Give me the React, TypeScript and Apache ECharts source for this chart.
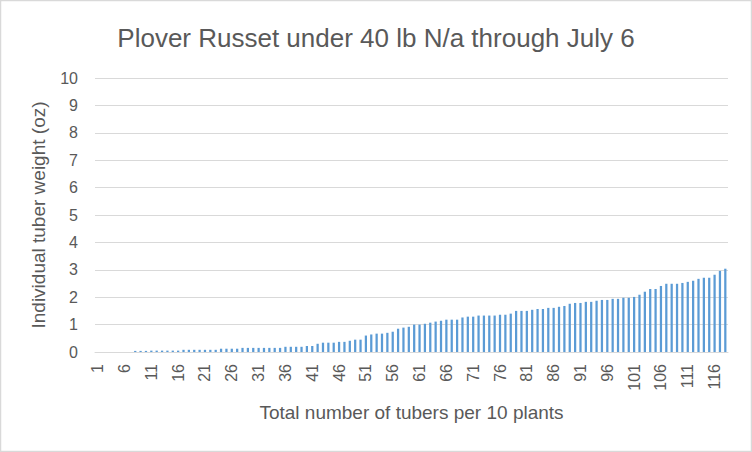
import React, { useEffect, useRef } from "react";
import * as echarts from "echarts";

const titleText = "Plover Russet under 40 lb N/a through July 6";
const xAxisName = "Total number of tubers per 10 plants";
const yAxisName = "Individual tuber weight (oz)";

const tuberCount = 118;
const categories: string[] = Array.from({ length: tuberCount }, (_, i) => String(i + 1));

const tuberWeights: number[] = [
  0, 0, 0, 0, 0, 0, 0,
  0.04, 0.04, 0.04, 0.05, 0.05, 0.05, 0.05, 0.05, 0.05,
  0.08, 0.08, 0.08, 0.08, 0.08, 0.08, 0.08,
  0.12, 0.12, 0.12, 0.12,
  0.15, 0.15, 0.15, 0.15, 0.15, 0.15, 0.15, 0.15,
  0.19, 0.19, 0.19, 0.19,
  0.22, 0.22,
  0.30,
  0.34, 0.34, 0.34,
  0.37, 0.37,
  0.41,
  0.45, 0.45,
  0.60, 0.64, 0.67, 0.67, 0.70, 0.74, 0.85, 0.89, 0.92, 1.00,
  1.00, 1.03, 1.07, 1.11, 1.14, 1.18, 1.18, 1.18, 1.26, 1.29,
  1.29, 1.33, 1.33, 1.33, 1.33, 1.36, 1.36, 1.40, 1.50, 1.50,
  1.50, 1.54, 1.57, 1.57, 1.61, 1.61, 1.65, 1.68, 1.76, 1.79,
  1.79, 1.83, 1.83, 1.87, 1.90, 1.90, 1.94, 1.94, 1.98, 1.98,
  2.01, 2.09, 2.20, 2.30, 2.30, 2.41, 2.49, 2.49, 2.49, 2.52,
  2.56, 2.60, 2.67, 2.71, 2.71, 2.82, 2.96, 3.04,
];

const FONT = "Liberation Sans";
const TEXT = "#595959";
const GRID = "#d9d9d9";

export default function App() {
  const ref = useRef<HTMLDivElement>(null);
  useEffect(() => {
    document.body.style.margin = "0";
    if (!ref.current) return;
    const chart = echarts.init(ref.current, undefined, { renderer: "svg" });
    chart.setOption({
      animation: false,
      backgroundColor: "#ffffff",
      title: {
        text: titleText,
        left: "center",
        top: 20,
        textStyle: { fontFamily: FONT, fontSize: 26, fontWeight: "normal", color: TEXT },
      },
      grid: { left: 95, right: 24, top: 78, bottom: 100 },
      xAxis: {
        type: "category",
        data: categories,
        name: xAxisName,
        nameLocation: "middle",
        nameGap: 51,
        nameTextStyle: { fontFamily: FONT, fontSize: 19, color: TEXT },
        axisLine: { lineStyle: { color: GRID, width: 1 } },
        axisTick: { show: false },
        axisLabel: {
          interval: 4,
          rotate: 90,
          fontFamily: FONT,
          fontSize: 16,
          color: TEXT,
          margin: 12,
        },
      },
      yAxis: {
        type: "value",
        min: 0,
        max: 10,
        interval: 1,
        name: yAxisName,
        nameLocation: "middle",
        nameGap: 47,
        nameTextStyle: { fontFamily: FONT, fontSize: 19, color: TEXT },
        axisLine: { show: false },
        axisTick: { show: false },
        axisLabel: { fontFamily: FONT, fontSize: 16, color: TEXT, margin: 17 },
        splitLine: { lineStyle: { color: GRID, width: 1 } },
      },
      series: [
        {
          type: "bar",
          data: tuberWeights,
          barWidth: "42%",
          itemStyle: { color: "#5b9bd5" },
        },
      ],
      graphic: [
        {
          type: "rect",
          shape: { x: 0.5, y: 0.5, width: 751, height: 451 },
          style: { fill: "none", stroke: GRID, lineWidth: 1.5 },
          silent: true,
        },
      ],
    });
    return () => chart.dispose();
  }, []);
  return <div ref={ref} style={{ width: 752, height: 452 }} />;
}
